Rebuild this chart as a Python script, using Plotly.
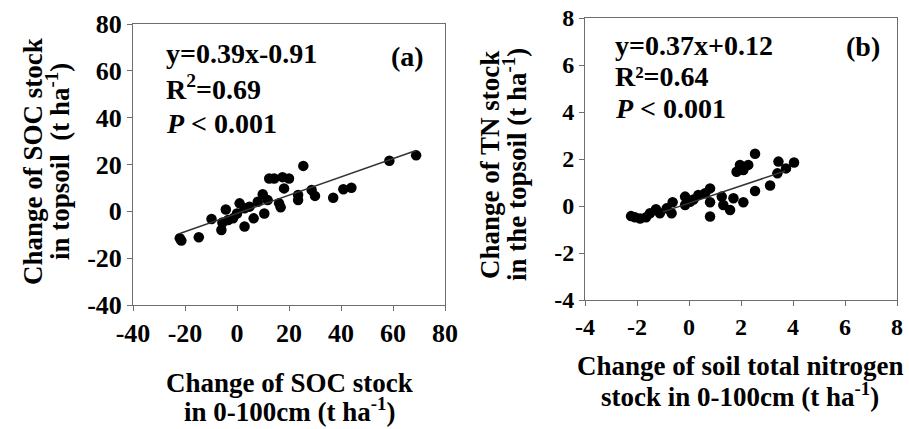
import plotly.graph_objects as go

# Panel (a): SOC stock change, 0-100 cm vs topsoil (t ha-1)
soc_deep = [-21.4, -22.0, -14.7, -9.8, -6.0, -5.6, -4.3, -3.4, -1.5, 0.0, 1.0, 2.9, 2.9,
            4.8, 6.4, 8.0, 9.9, 10.5, 11.8, 12.4, 14.3, 16.2, 16.8, 17.5, 18.1, 20.0,
            23.5, 23.5, 25.5, 28.7, 30.0, 37.0, 40.9, 44.0, 58.6, 68.9]
soc_top = [-12.5, -11.5, -11.1, -3.3, -8.0, -4.8, 0.8, -3.7, -3.0, -0.9, 3.4, -6.5, 1.3,
           2.0, -3.0, 4.1, 7.3, -0.9, 4.8, 14.0, 14.0, 3.4, 1.7, 14.6, 9.8, 14.0,
           4.8, 7.0, 19.4, 9.1, 6.6, 5.8, 9.4, 10.1, 21.6, 23.9]
soc_slope, soc_icpt = 0.39, -0.91

# Panel (b): total nitrogen stock change, 0-100 cm vs topsoil (t ha-1)
tn_deep = [-2.23, -2.08, -1.88, -1.65, -1.50, -1.27, -1.12, -0.86, -0.67, -0.63, -0.15,
           -0.15, 0.04, 0.17, 0.36, 0.62, 0.81, 0.81, 0.81, 1.26, 1.32, 1.58, 1.71, 2.09,
           1.83, 1.96, 2.09, 2.28, 2.54, 2.54, 3.12, 3.44, 3.40, 3.73, 4.04]
tn_top = [-0.43, -0.48, -0.53, -0.48, -0.31, -0.14, -0.31, -0.10, -0.31, 0.16, 0.40,
          0.04, 0.18, 0.28, 0.47, 0.54, 0.75, 0.16, -0.45, 0.40, 0.04, -0.17, 0.33, 0.16,
          1.46, 1.75, 1.53, 1.75, 2.22, 0.64, 0.87, 1.89, 1.39, 1.60, 1.85]
tn_slope, tn_icpt = 0.37, 0.12
tn_line_range = [-1.0, 3.7]

soc_ticks = [-40, -20, 0, 20, 40, 60, 80]
tn_ticks = [-4, -2, 0, 2, 4, 6, 8]

W, H = 909, 429
FONT = "Liberation Serif"
AX = "#6e6e6e"


def px_x(v):
    return v / W


def px_y(v):
    return 1 - v / H


fig = go.Figure()

fig.add_trace(go.Scatter(x=soc_deep, y=soc_top, mode="markers",
                         marker=dict(color="black", size=10.5), xaxis="x", yaxis="y",
                         showlegend=False))
lx = [min(soc_deep), max(soc_deep)]
fig.add_trace(go.Scatter(x=lx, y=[soc_slope * v + soc_icpt for v in lx], mode="lines",
                         line=dict(color="#333", width=1.5), xaxis="x", yaxis="y",
                         showlegend=False))

fig.add_trace(go.Scatter(x=tn_deep, y=tn_top, mode="markers",
                         marker=dict(color="black", size=10.5), xaxis="x2", yaxis="y2",
                         showlegend=False))
fig.add_trace(go.Scatter(x=tn_line_range, y=[tn_slope * v + tn_icpt for v in tn_line_range],
                         mode="lines", line=dict(color="#333", width=1.5),
                         xaxis="x2", yaxis="y2", showlegend=False))


def axis(domain, rng, ticks, anchor, size):
    return dict(domain=domain, range=rng, tickvals=ticks,
                ticktext=[str(t) for t in ticks], anchor=anchor,
                showgrid=False, zeroline=False, showline=True, linecolor=AX, linewidth=1,
                mirror=True, ticks="outside", ticklen=5, tickcolor=AX, automargin=False,
                tickfont=dict(family=FONT, size=size, color="black", weight="bold"))


fig.update_layout(
    width=W, height=H,
    margin=dict(l=0, r=0, t=0, b=0, autoexpand=False),
    paper_bgcolor="white", plot_bgcolor="white",
    xaxis=axis([px_x(133), px_x(445)], [-40, 80], soc_ticks, "y", 26),
    yaxis=axis([px_y(305), px_y(24)], [-40, 80], soc_ticks, "x", 26),
    xaxis2=axis([px_x(585), px_x(897)], [-4, 8], tn_ticks, "y2", 24),
    yaxis2=axis([px_y(300), px_y(18)], [-4, 8], tn_ticks, "x2", 24),
)

ann_font = dict(family=FONT, size=28, color="black", weight="bold")
title_font = dict(family=FONT, size=27, color="black", weight="bold")


def note(text, x, y, xanchor="left", font=ann_font, angle=0):
    fig.add_annotation(text=text, x=px_x(x), y=px_y(y), xref="paper", yref="paper",
                       xanchor=xanchor, yanchor="middle", showarrow=False,
                       font=font, textangle=angle)


# statistics, panel (a)
note("y=0.39x-0.91", 164, 54)
note("R<sup>2</sup>=0.69", 164, 88)
note("<i>P</i> &lt; 0.001", 164, 124)
note("(a)", 426, 56, xanchor="right")

# statistics, panel (b)
note("y=0.37x+0.12", 613, 45)
note("R²=0.64", 613, 76)
note("<i>P</i> &lt; 0.001", 613, 109)
note("(b)", 882, 47, xanchor="right")

# axis titles
note("Change of SOC stock", 289, 383, xanchor="center", font=title_font)
note("in 0-100cm (t ha<sup>-1</sup>)", 289, 410, xanchor="center", font=title_font)
note("Change of soil total nitrogen", 740, 366, xanchor="center", font=title_font)
note("stock in 0-100cm (t ha<sup>-1</sup>)", 740, 395, xanchor="center", font=title_font)
note("Change of SOC stock", 33, 162, xanchor="center", font=title_font, angle=-90)
note("in topsoil  (t ha<sup>-1</sup>)", 58, 162, xanchor="center", font=title_font, angle=-90)
note("Change of TN stock", 490, 165, xanchor="center", font=title_font, angle=-90)
note("in the topsoil (t ha<sup>-1</sup>)", 515, 165, xanchor="center", font=title_font, angle=-90)

fig.write_html("out.html")
